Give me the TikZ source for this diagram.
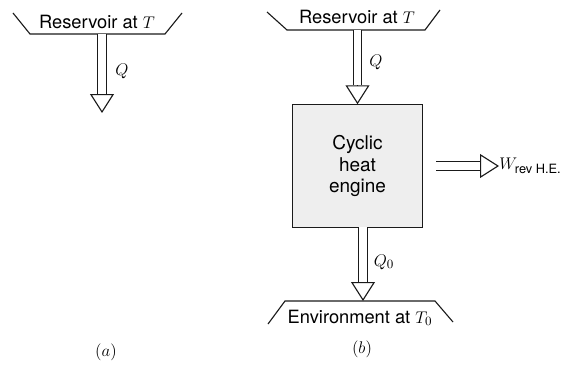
\documentclass[tikz,border=0pt]{standalone}
\usepackage{amsmath}
\usepackage{fontspec}
\setmainfont{TeX Gyre Heros}
\usetikzlibrary{arrows.meta,positioning,calc}
\definecolor{engineink}{HTML}{1A1A1A}
\definecolor{enginefill}{HTML}{EEEEEE}
\tikzset{
  tank/.style={
    font=\fontsize{13}{15}\selectfont,
    inner sep=1pt
  },
  tankline/.style={
    draw=engineink,
    line width=0.8pt
  },
  engine/.style={
    draw=engineink,
    fill=enginefill,
    line width=0.8pt,
    minimum width=93pt,
    minimum height=87pt,
    align=center,
    font=\fontsize{13.5}{15.3}\selectfont
  },
  flowshaft/.style={
    draw=engineink,
    line width=0.7pt,
    double,
    double distance=5.6pt,
    shorten >=13.5pt
  },
  flowhead/.style={
    draw=engineink,
    line width=0.8pt,
    -{Triangle[open,length=13.5pt,width=17pt]}
  },
  flowlabel/.style={
    font=\fontsize{13}{15}\selectfont,
    inner sep=0pt
  },
  caption/.style={
    font=\fontsize{13}{15}\selectfont
  }
}
\newcommand{\heatflow}[2]{%
  \draw[flowshaft] (#1) -- (#2);
  \draw[flowhead] ($(#2)!13.5pt!(#1)$) -- (#2);
}

\begin{document}
\begin{tikzpicture}[x=0.025cm, y=-0.025cm]
\useasboundingbox (0,0) rectangle (569,367);

% (a) reservoir alone
\node[tank] (resA) at (97,22) {Reservoir at $T$};
\draw[tankline] ([shift={(-84,-9)}]resA.center) -- ++(17,21) -- ++(135,0) -- ++(17,-21);
\coordinate (qA-tail) at (102,34);
\coordinate (qA-tip) at (102,113);
\heatflow{qA-tail}{qA-tip}
\node[flowlabel] (qA-lbl) at (122,71) {$Q$};
\node[caption] (capA) at (106,352) {$(a)$};

% (b) reversible heat engine
\node[tank] (resB) at (357,17) {Reservoir at $T$};
\draw[tankline] ([shift={(-90,-5)}]resB.center) -- ++(20,18) -- ++(138,0) -- ++(15,-20);
\node[engine] (heng) at (357.5,166) {Cyclic\\heat\\engine};
\coordinate (qB-tail) at (heng.north |- 0,30);
\heatflow{qB-tail}{heng.north}
\node[flowlabel] (qB-lbl) at (376,62) {$Q$};

\coordinate (w-tail) at ([xshift=9]heng.east);
\coordinate (w-tip) at (499,166);
\heatflow{w-tail}{w-tip}
\node[flowlabel, anchor=west] (w-lbl) at (w-tip) {$W_{\text{rev H.E.}}$};

\node[tank] (envB) at (360,318) {Environment at $T_0$};
\draw[tankline] ([shift={(-92,6)}]envB.center) -- ++(17,-23) -- ++(150,0) -- ++(18,21);
\coordinate (q0-tail) at (363,227);
\coordinate (q0-tip) at (363,301);
\heatflow{q0-tail}{q0-tip}
\node[flowlabel] (q0-lbl) at (384,262) {$Q_0$};
\node[caption] (capB) at (362,349) {$(b)$};
\end{tikzpicture}
\end{document}
